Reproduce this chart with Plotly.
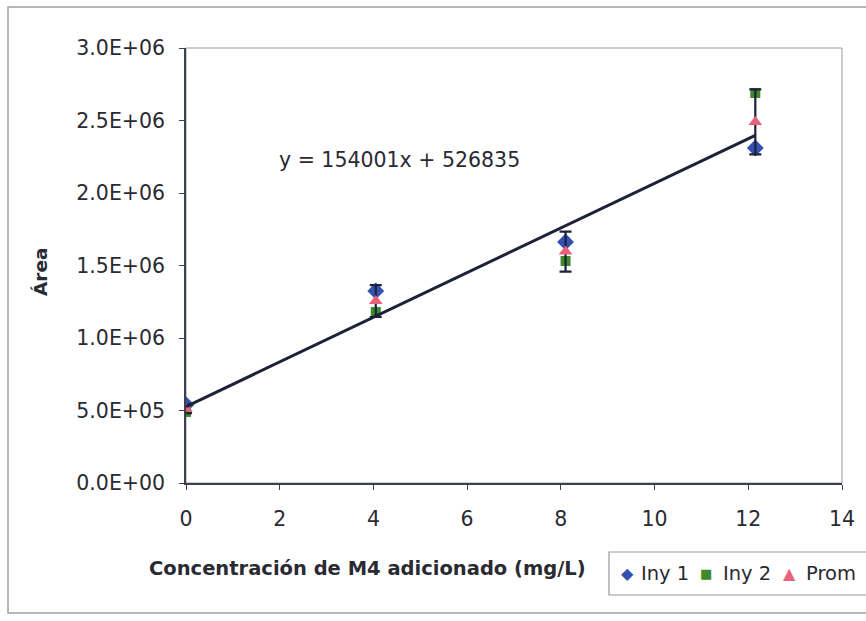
import plotly.graph_objects as go

# ---- data ----
conc = [0, 4.05, 8.1, 12.15]
iny1 = [540000, 1324000, 1662000, 2310000]
iny2 = [490000, 1179000, 1531000, 2690000]
prom = [512000, 1255000, 1596000, 2490000]
prom_err = [30000, 110000, 138000, 224000]

slope = 154001
intercept = 526835
trend_x = [0, 12.15]
trend_y = [slope * x + intercept for x in trend_x]

x_ticks = [0, 2, 4, 6, 8, 10, 12, 14]
y_ticks = [0, 500000, 1000000, 1500000, 2000000, 2500000, 3000000]
y_ticktext = ["0.0E+00", "5.0E+05", "1.0E+06", "1.5E+06", "2.0E+06", "2.5E+06", "3.0E+06"]

series_names = ["Iny 1", "Iny 2", "Prom"]
series_symbols = ["diamond", "square", "triangle-up"]
series_glyphs = ["◆", "■", "▲"]
series_colors = ["#3450b0", "#3d8a2a", "#e8627c"]
series_sizes = [13, 10, 12]

FONT = "DejaVu Sans"
TXT = "#2a2a33"
AXIS = "#3a3f55"
LINE = "#1c2238"

W, H = 866, 621
L, R, T, B = 186, 842, 48, 483

fig = go.Figure()
for ys, nm, sym, col, sz in zip([iny1, iny2, prom], series_names, series_symbols,
                                series_colors, series_sizes):
    kw = {}
    if nm == "Prom":
        kw["error_y"] = dict(type="data", array=prom_err, visible=True,
                             color=LINE, thickness=2.2, width=6)
    fig.add_trace(go.Scatter(x=conc, y=ys, mode="markers", name=nm, showlegend=False,
                             marker=dict(symbol=sym, size=sz, color=col), **kw))
fig.add_trace(go.Scatter(x=trend_x, y=trend_y, mode="lines", showlegend=False,
                         line=dict(color=LINE, width=3)))

def px(xp):
    return (xp - L) / (R - L)

def py(yp):
    return (B - yp) / (B - T)

annotations = [
    dict(text="y = 154001x + 526835", x=4.55, y=2228000, xref="x", yref="y",
         showarrow=False, font=dict(family=FONT, size=20.5, color=TXT)),
    dict(text="<b>Concentración de M4 adicionado (mg/L)</b>", x=px(367), y=py(568),
         xref="paper", yref="paper", xanchor="center", yanchor="middle", showarrow=False,
         font=dict(family=FONT, size=19.5, color=TXT)),
    dict(text="<b>Área</b>", x=px(40), y=py(272), xref="paper", yref="paper",
         xanchor="center", yanchor="middle",
         showarrow=False, textangle=-90, font=dict(family=FONT, size=18.5, color=TXT)),
]

# ---- hand-drawn legend ----
leg_marker_x = [627, 706, 789]
leg_glyph_sizes = [16, 13, 16]
leg_text_x = [639, 721, 804]
leg_y = 573
for i in range(3):
    annotations.append(dict(text=series_glyphs[i], x=px(leg_marker_x[i]), y=py(leg_y),
                            xref="paper", yref="paper", xanchor="center", yanchor="middle",
                            showarrow=False,
                            font=dict(family=FONT, size=leg_glyph_sizes[i], color=series_colors[i])))
    annotations.append(dict(text=series_names[i], x=px(leg_text_x[i]), y=py(leg_y),
                            xref="paper", yref="paper", xanchor="left", yanchor="middle",
                            showarrow=False, font=dict(family=FONT, size=19.5, color=TXT)))

fig.update_layout(
    width=W, height=H,
    margin=dict(l=L, r=W - R, t=T, b=H - B, autoexpand=False),
    paper_bgcolor="white", plot_bgcolor="white",
    font=dict(family=FONT, size=20, color=TXT),
    showlegend=False,
    xaxis=dict(range=[0, 14], tickvals=x_ticks, showgrid=False, zeroline=False,
               showline=True, linecolor=AXIS, linewidth=1.5,
               ticks="outside", ticklen=5, tickcolor=AXIS,
               ticklabelstandoff=12, tickfont=dict(size=20.5, color=TXT)),
    yaxis=dict(range=[0, 3000000], tickvals=y_ticks, ticktext=y_ticktext,
               showgrid=False, zeroline=False,
               showline=True, linecolor=AXIS, linewidth=1.5,
               ticks="outside", ticklen=5, tickcolor=AXIS,
               ticklabelstandoff=10, tickfont=dict(size=20.5, color=TXT)),
    shapes=[
        dict(type="rect", xref="paper", yref="paper", x0=0, y0=0, x1=1, y1=1,
             line=dict(color="#9a9a9a", width=1), layer="below"),
        dict(type="rect", xref="paper", yref="paper", x0=px(8), y0=py(613), x1=px(880), y1=py(7),
             line=dict(color="#a0a0a0", width=1.5), layer="below"),
        dict(type="rect", xref="paper", yref="paper", x0=px(609), y0=py(595), x1=px(880), y1=py(552),
             line=dict(color="#9a9a9a", width=1.2), fillcolor="rgba(0,0,0,0)", layer="above"),
    ],
    annotations=annotations,
)

fig.write_html("out.html")
